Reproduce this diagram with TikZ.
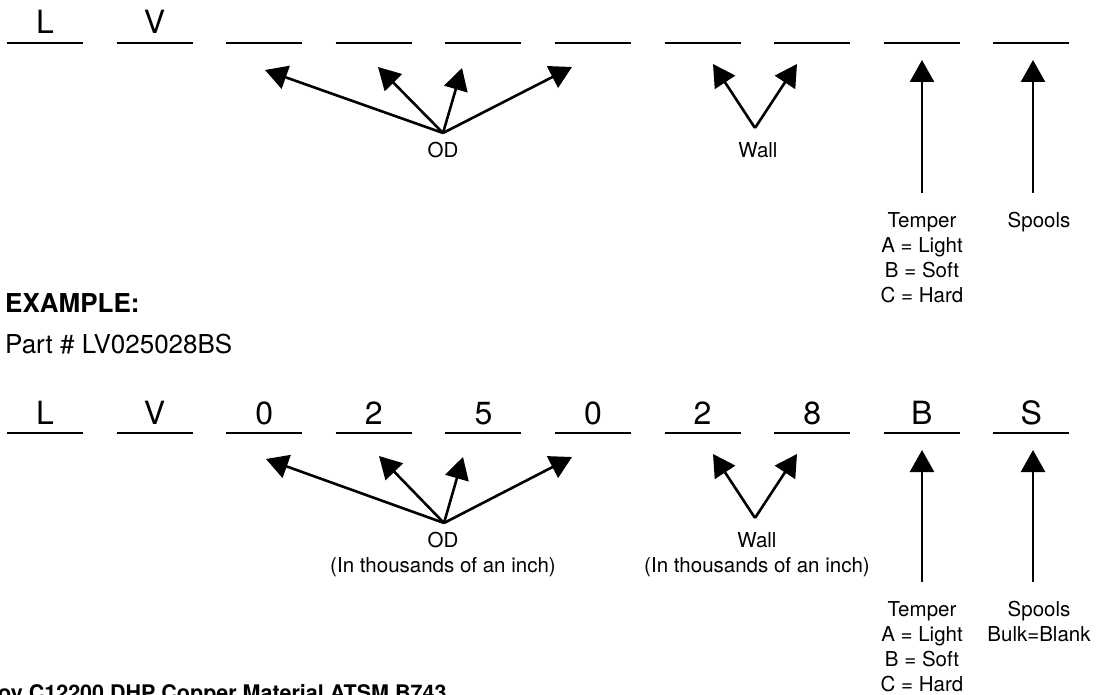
\documentclass[tikz,border=0pt]{standalone}
\usepackage{fontspec}
\setmainfont{TeX Gyre Heros}
\usetikzlibrary{arrows.meta}

\begin{document}
\begin{tikzpicture}[x=1pt, y=-1pt]
        \tikzstyle{slot}=[line width=2.7pt]
        \tikzstyle{pointer}=[line width=2.6pt, -{Triangle[length=22pt, width=24pt]}]
        \tikzstyle{letter}=[anchor=base, inner sep=0pt, font=\fontsize{32}{32}\selectfont]
        \tikzstyle{note}=[anchor=north, align=center, inner sep=0pt, font=\fontsize{20.5}{25.1}\selectfont]
        \tikzstyle{heading}=[anchor=base west, inner sep=0pt, font=\fontsize{26}{26}\selectfont]
        \useasboundingbox (0, 0) rectangle (1097, 695);
        % \draw[draw=black!20] (0, 0) grid[step=100] (1097, 695);

        % blank code
        \draw[slot] (7, 43) -- (83, 43);
        \draw[slot] (116.6, 43) -- (192.6, 43);
        \draw[slot] (226.2, 43) -- (302.2, 43);
        \draw[slot] (335.8, 43) -- (411.8, 43);
        \draw[slot] (445.4, 43) -- (521.4, 43);
        \draw[slot] (555, 43) -- (631, 43);
        \draw[slot] (664.6, 43) -- (740.6, 43);
        \draw[slot] (774.2, 43) -- (850.2, 43);
        \draw[slot] (883.8, 43) -- (959.8, 43);
        \draw[slot] (993.4, 43) -- (1069.4, 43);
        \node[letter] (top-l) at (45, 34) {L};
        \node[letter] (top-v) at (154.6, 34) {V};

        \coordinate (od-hub) at (443, 133);
        \coordinate (od-a) at (265, 70);
        \coordinate (od-b) at (378, 67);
        \coordinate (od-c) at (462, 68);
        \coordinate (od-d) at (572, 67);
        \draw[pointer] (od-hub) -- (od-a);
        \draw[pointer] (od-hub) -- (od-b);
        \draw[pointer] (od-hub) -- (od-c);
        \draw[pointer] (od-hub) -- (od-d);
        \node[note] (od) at (443, 142.3) {OD};

        \coordinate (wall-hub) at (755, 128);
        \coordinate (wall-a) at (713, 64);
        \coordinate (wall-b) at (797, 64);
        \draw[pointer] (wall-hub) -- (wall-a);
        \draw[pointer] (wall-hub) -- (wall-b);
        \node[note] (wall) at (758, 142.3) {Wall};

        \coordinate (temper-foot) at (922, 193);
        \coordinate (temper-tip) at (922, 60);
        \coordinate (spools-foot) at (1033, 193);
        \coordinate (spools-tip) at (1033, 60);
        \draw[pointer] (temper-foot) -- (temper-tip);
        \draw[pointer] (spools-foot) -- (spools-tip);
        \node[note] (temper) at (922, 212.3) {Temper\\A = Light\\B = Soft\\C = Hard};
        \node[note] (spools) at (1039, 212.3) {Spools};

        % example
        \node[heading, font=\fontsize{26}{26}\selectfont\bfseries] (example) at (5, 312) {EXAMPLE:};
        \node[heading] (part) at (5, 353) {Part \# LV025028BS};

        \draw[slot] (7, 433) -- (83, 433);
        \draw[slot] (116.6, 433) -- (192.6, 433);
        \draw[slot] (226.2, 433) -- (302.2, 433);
        \draw[slot] (335.8, 433) -- (411.8, 433);
        \draw[slot] (445.4, 433) -- (521.4, 433);
        \draw[slot] (555, 433) -- (631, 433);
        \draw[slot] (664.6, 433) -- (740.6, 433);
        \draw[slot] (774.2, 433) -- (850.2, 433);
        \draw[slot] (883.8, 433) -- (959.8, 433);
        \draw[slot] (993.4, 433) -- (1069.4, 433);
        \node[letter] (ex-l) at (45, 424) {L};
        \node[letter] (ex-v) at (154.6, 424) {V};
        \node[letter] (ex-0a) at (264.2, 424) {0};
        \node[letter] (ex-2a) at (373.8, 424) {2};
        \node[letter] (ex-5) at (483.4, 424) {5};
        \node[letter] (ex-0b) at (593, 424) {0};
        \node[letter] (ex-2b) at (702.6, 424) {2};
        \node[letter] (ex-8) at (812.2, 424) {8};
        \node[letter] (ex-b) at (921.8, 424) {B};
        \node[letter] (ex-s) at (1031.4, 424) {S};

        \coordinate (ex-od-hub) at (444, 523);
        \coordinate (ex-od-a) at (266, 459);
        \coordinate (ex-od-b) at (379, 456);
        \coordinate (ex-od-c) at (463, 457);
        \coordinate (ex-od-d) at (572, 457);
        \draw[pointer] (ex-od-hub) -- (ex-od-a);
        \draw[pointer] (ex-od-hub) -- (ex-od-b);
        \draw[pointer] (ex-od-hub) -- (ex-od-c);
        \draw[pointer] (ex-od-hub) -- (ex-od-d);
        \node[note] (ex-od) at (443, 532.3) {OD\\(In thousands of an inch)};

        \coordinate (ex-wall-hub) at (755, 518);
        \coordinate (ex-wall-a) at (713, 454);
        \coordinate (ex-wall-b) at (797, 454);
        \draw[pointer] (ex-wall-hub) -- (ex-wall-a);
        \draw[pointer] (ex-wall-hub) -- (ex-wall-b);
        \node[note] (ex-wall) at (757, 532.3) {Wall\\(In thousands of an inch)};

        \coordinate (ex-temper-foot) at (922, 582);
        \coordinate (ex-temper-tip) at (922, 450);
        \coordinate (ex-spools-foot) at (1033, 582);
        \coordinate (ex-spools-tip) at (1033, 450);
        \draw[pointer] (ex-temper-foot) -- (ex-temper-tip);
        \draw[pointer] (ex-spools-foot) -- (ex-spools-tip);
        \node[note] (ex-temper) at (922, 601.3) {Temper\\A = Light\\B = Soft\\C = Hard};
        \node[note] (ex-spools) at (1039, 601.3) {Spools\\Bulk=Blank};

        \node[heading, font=\fontsize{21.5}{21.5}\selectfont\bfseries] (alloy) at (-2, 700) {oy C12200 DHP Copper Material ATSM B743};
    \end{tikzpicture}
\end{document}
